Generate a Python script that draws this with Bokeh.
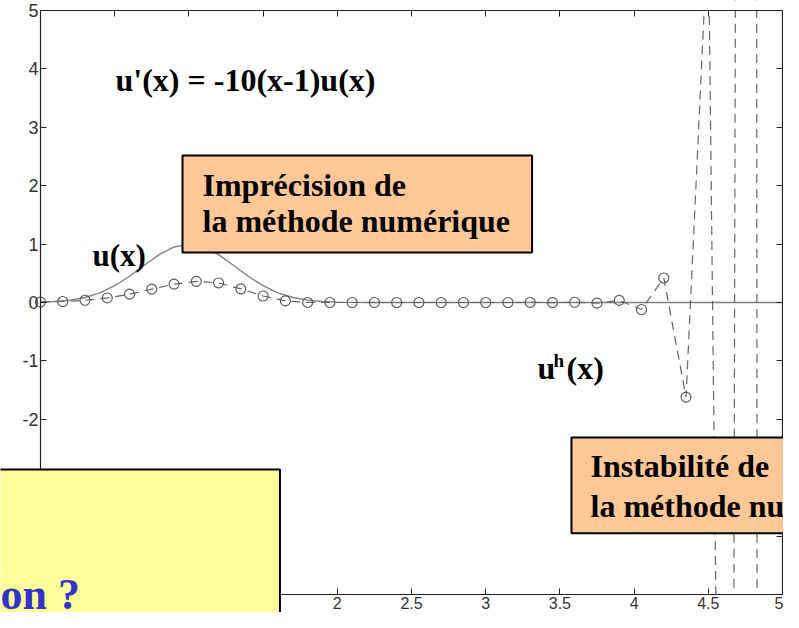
from bokeh.plotting import figure
from bokeh.models import (Label, Range1d, LinearAxis, SingleIntervalTicker,
                          CustomJSTickFormatter, BoxAnnotation)
from bokeh.embed import file_html
from bokeh.resources import INLINE

# axis limits
X_MIN, X_MAX = 0.0, 5.0
Y_MIN, Y_MAX = -5.0, 5.0

# exact solution u(x)
x_exact = [0.0, 0.1, 0.2, 0.3, 0.4, 0.5, 0.6, 0.7, 0.8, 0.9, 1.0, 1.1, 1.2, 1.3,
           1.4, 1.5, 1.6, 1.7, 1.8, 1.9, 2.0, 2.2, 5.0]
u_exact = [0.007, 0.017, 0.041, 0.086, 0.165, 0.287, 0.449, 0.638, 0.819, 0.951,
           1.0, 0.951, 0.819, 0.638, 0.449, 0.287, 0.165, 0.086, 0.041, 0.017,
           0.007, 0.0, 0.0]

# numerical solution u^h(x)
x_h = [0.0, 0.15, 0.3, 0.45, 0.6, 0.75, 0.9, 1.05, 1.2, 1.35, 1.5, 1.65, 1.8,
       1.95, 2.1, 2.25, 2.4, 2.55, 2.7, 2.85, 3.0, 3.15, 3.3, 3.45, 3.6, 3.75,
       3.9, 4.05, 4.2, 4.35, 4.5, 4.65, 4.8, 4.95]
u_h = [0.007, 0.017, 0.038, 0.078, 0.143, 0.229, 0.314, 0.362, 0.335, 0.234,
       0.111, 0.028, 0.001, 0.0, 0.0, 0.0, 0.0, 0.0, 0.0, 0.0, 0.0, 0.0, 0.001,
       -0.002, 0.004, -0.011, 0.036, -0.12, 0.42, -1.62, 6.5, -27.6, 124.0, -553.0]

equation = "u'(x) = -10(x-1)u(x)"
label_u = "u(x)"
box1_text = "Imprécision de\nla méthode numérique"
box2_text = "Instabilité de\nla méthode numérique"
box3_text = "on ?"

# layout: canvas pixels of the axes box
W, H = 783, 612
AX_L, AX_R, AX_T, AX_B = 40, 782, 10, 594
sx = (AX_R - AX_L) / (X_MAX - X_MIN)
sy = (AX_B - AX_T) / (Y_MAX - Y_MIN)
x_range = Range1d(X_MIN - AX_L / sx, X_MAX + (W - AX_R) / sx)
y_range = Range1d(Y_MIN - (H - AX_B) / sy, Y_MAX + AX_T / sy)

def dx(px):
    return X_MIN + (px - AX_L) / sx

def dy(py):
    return Y_MAX - (py - AX_T) / sy

p = figure(width=W, height=H, output_backend="svg", toolbar_location=None,
           x_range=x_range, y_range=y_range,
           min_border_left=0, min_border_right=0, min_border_top=0,
           min_border_bottom=0)
p.background_fill_color = "white"
p.border_fill_color = "white"
p.outline_line_color = None
p.xgrid.visible = False
p.ygrid.visible = False

bottom = p.xaxis[0]
left = p.yaxis[0]
bottom.ticker = SingleIntervalTicker(interval=0.5)
left.ticker = SingleIntervalTicker(interval=1)
fmt = CustomJSTickFormatter(code="return tick.toString()")
bottom.formatter = fmt
left.formatter = fmt
bottom.fixed_location = Y_MIN
left.fixed_location = X_MIN
bottom.bounds = (X_MIN, X_MAX)
left.bounds = (Y_MIN, Y_MAX)

blank = CustomJSTickFormatter(code="return ''")
top = LinearAxis(ticker=SingleIntervalTicker(interval=0.5), formatter=blank,
                 fixed_location=Y_MAX, bounds=(X_MIN, X_MAX))
right = LinearAxis(ticker=SingleIntervalTicker(interval=1), formatter=blank,
                   fixed_location=X_MAX, bounds=(Y_MIN, Y_MAX))
p.add_layout(top, "above")
p.add_layout(right, "right")

for ax in [bottom, left, top, right]:
    ax.major_tick_in = 6
    ax.major_tick_out = 0
    ax.minor_tick_in = 0
    ax.minor_tick_out = 0
    ax.axis_line_color = "#222222"
    ax.axis_line_width = 1.2
    ax.major_tick_line_color = "#222222"
    ax.major_label_text_font = "Liberation Sans"
    ax.major_label_text_color = "#333333"
    ax.major_label_standoff = 2
left.major_label_text_font_size = "18px"
bottom.major_label_text_font_size = "16px"
bottom.major_label_standoff = 2
for ax in [top, right]:
    ax.major_label_text_font_size = "1px"
    ax.major_label_standoff = 0

p.line(x_exact, u_exact, line_color="#808080", line_width=1.4, level="underlay")
p.line(x_h, u_h, line_color="#666666", line_width=1.2, line_dash="9 6",
       level="underlay")
p.scatter(x_h, u_h, marker="circle", size=10, fill_color=None,
          line_color="#555555", line_width=1.1, level="underlay")

# white masks outside the axes box (curves are clipped at the axes)
p.add_layout(BoxAnnotation(bottom=Y_MAX, fill_color="white", fill_alpha=1,
                           line_color=None, level="glyph"))
p.add_layout(BoxAnnotation(top=Y_MIN, fill_color="white", fill_alpha=1,
                           line_color=None, level="glyph"))
p.add_layout(BoxAnnotation(left=X_MAX, fill_color="white", fill_alpha=1,
                           line_color=None, level="glyph"))

serif = "Liberation Serif"

def txt(px, py, s, size, color="black"):
    return Label(x=dx(px), y=dy(py), text=s, text_font=serif,
                 text_font_style="bold", text_font_size=size,
                 text_color=color, text_baseline="alphabetic")

p.add_layout(txt(115, 79, equation, "32px"))
p.add_layout(txt(92, 255, label_u, "31px"))
p.add_layout(txt(537, 367, "u", "32px"))
p.add_layout(txt(553, 360, "h", "19px"))
p.add_layout(txt(566, 367, "(x)", "32px"))

p.add_layout(Label(x=dx(182), y=dy(155), text=box1_text, text_font=serif,
                   text_font_style="bold", text_font_size="32px",
                   text_color="black", text_align="left", text_baseline="top",
                   text_line_height=1.0,
                   background_fill_color="#FFC896", border_line_color="black",
                   border_line_width=2,
                   padding=dict(left=20, right=22, top=11, bottom=14)))
p.add_layout(Label(x=dx(571), y=dy(437), text=box2_text, text_font=serif,
                   text_font_style="bold", text_font_size="32px",
                   text_color="black", text_align="left", text_baseline="top",
                   text_line_height=1.13,
                   background_fill_color="#FFC896", border_line_color="black",
                   border_line_width=2,
                   padding=dict(left=19, right=22, top=10, bottom=9)))
p.add_layout(Label(x=dx(-12), y=dy(469), text=box3_text, text_font=serif,
                   text_font_style="bold", text_font_size="44px",
                   text_color="#3333CC", text_align="left", text_baseline="top",
                   level="overlay",
                   background_fill_color="#FFFF99", border_line_color="black",
                   border_line_width=2,
                   padding=dict(left=12, right=200, top=100, bottom=20)))

open("out.html", "w").write(file_html(p, INLINE))
